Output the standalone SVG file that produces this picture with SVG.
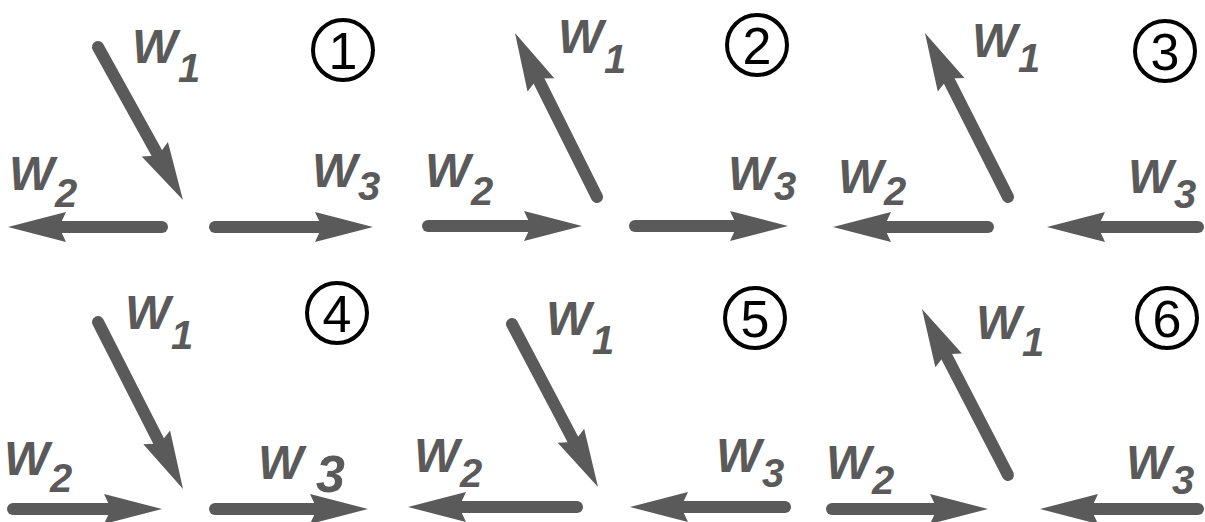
<svg xmlns="http://www.w3.org/2000/svg" width="1205" height="522" viewBox="0 0 1205 522">
<style>
.ar{stroke:#5a5a5a;stroke-width:12;stroke-linecap:round;fill:none;marker-end:url(#head)}
.lb{font-family:"Liberation Sans",Arial,sans-serif;font-style:italic;font-weight:bold;font-size:48px;fill:#5a5a5a}
.sb{font-size:40px}
.cn{fill:none;stroke:#000;stroke-width:4}
.cd{font-family:"Liberation Sans",Arial,sans-serif;font-size:52px;fill:#000;text-anchor:middle}
</style>
<defs>
<marker id="head" markerUnits="userSpaceOnUse" markerWidth="64" markerHeight="34" refX="28" refY="15" orient="auto" overflow="visible">
<path d="M0,0 L58,15 L0,30 L7,15 Z" fill="#5a5a5a"/>
</marker>
</defs>
<rect width="1205" height="522" fill="#fff"/>
<g id="connectors">
<line class="ar" x1="98" y1="47" x2="168.4" y2="173.8"/>
<line class="ar" x1="162" y1="227" x2="38" y2="227"/>
<line class="ar" x1="215" y1="227" x2="343" y2="227"/>
<line class="ar" x1="597" y1="197" x2="528.4" y2="59.8"/>
<line class="ar" x1="428" y1="226" x2="552" y2="226"/>
<line class="ar" x1="635" y1="226" x2="758" y2="226"/>
<line class="ar" x1="1008" y1="197" x2="938.5" y2="59.8"/>
<line class="ar" x1="988" y1="227" x2="863" y2="227"/>
<line class="ar" x1="1198" y1="227" x2="1077" y2="227"/>
<line class="ar" x1="98" y1="322" x2="169.4" y2="462.3"/>
<line class="ar" x1="13" y1="509" x2="132" y2="509"/>
<line class="ar" x1="215" y1="509" x2="338" y2="509"/>
<line class="ar" x1="512" y1="324" x2="584" y2="460.5"/>
<line class="ar" x1="577" y1="507" x2="438" y2="507"/>
<line class="ar" x1="785" y1="507" x2="660" y2="507"/>
<line class="ar" x1="1008" y1="475" x2="935.8" y2="335.6"/>
<line class="ar" x1="832" y1="509" x2="958" y2="509"/>
<line class="ar" x1="1198" y1="509" x2="1070" y2="509"/>
</g>
<g id="panel1">
<text class="lb" x="132" y="63">W<tspan class="sb" x="178" y="82">1</tspan></text>
<text class="lb" x="9" y="190">W<tspan class="sb" x="55" y="207">2</tspan></text>
<text class="lb" x="312" y="187">W<tspan class="sb" x="358" y="200">3</tspan></text>
<circle class="cn" cx="343" cy="50" r="30"/>
<text class="cd" x="343" y="69">1</text>
</g>
<g id="panel2">
<text class="lb" x="558" y="53">W<tspan class="sb" x="604" y="73">1</tspan></text>
<text class="lb" x="425" y="187">W<tspan class="sb" x="471" y="205">2</tspan></text>
<text class="lb" x="728" y="190">W<tspan class="sb" x="774" y="200">3</tspan></text>
<circle class="cn" cx="757" cy="45" r="30"/>
<text class="cd" x="757" y="64">2</text>
</g>
<g id="panel3">
<text class="lb" x="972" y="57">W<tspan class="sb" x="1018" y="72">1</tspan></text>
<text class="lb" x="838" y="193">W<tspan class="sb" x="884" y="205">2</tspan></text>
<text class="lb" x="1128" y="193">W<tspan class="sb" x="1174" y="208">3</tspan></text>
<circle class="cn" cx="1165" cy="51" r="30"/>
<text class="cd" x="1165" y="70">3</text>
</g>
<g id="panel4">
<text class="lb" x="125" y="329">W<tspan class="sb" x="171" y="349">1</tspan></text>
<text class="lb" x="4" y="475">W<tspan class="sb" x="50" y="492">2</tspan></text>
<text class="lb" x="258" y="479">W<tspan font-size="52px" x="316" y="492">3</tspan></text>
<circle class="cn" cx="337" cy="313" r="30"/>
<text class="cd" x="337" y="332">4</text>
</g>
<g id="panel5">
<text class="lb" x="546" y="335">W<tspan class="sb" x="592" y="354">1</tspan></text>
<text class="lb" x="414" y="472">W<tspan class="sb" x="460" y="487">2</tspan></text>
<text class="lb" x="716" y="472">W<tspan class="sb" x="762" y="487">3</tspan></text>
<circle class="cn" cx="755" cy="318" r="30"/>
<text class="cd" x="755" y="337">5</text>
</g>
<g id="panel6">
<text class="lb" x="976" y="339">W<tspan class="sb" x="1022" y="356">1</tspan></text>
<text class="lb" x="826" y="479">W<tspan class="sb" x="872" y="494">2</tspan></text>
<text class="lb" x="1126" y="479">W<tspan class="sb" x="1172" y="494">3</tspan></text>
<circle class="cn" cx="1167" cy="318" r="30"/>
<text class="cd" x="1167" y="337">6</text>
</g>
</svg>
